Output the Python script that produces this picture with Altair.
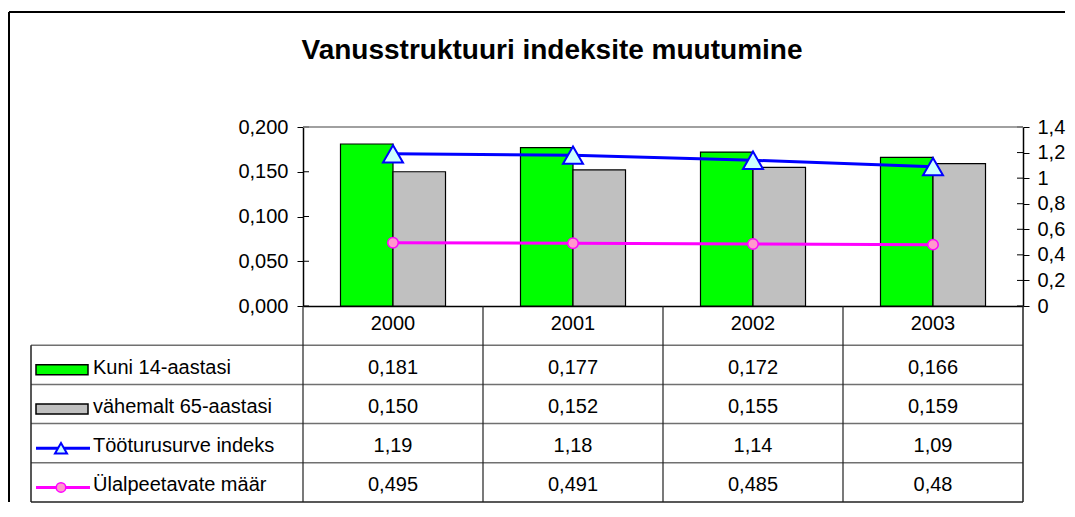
import altair as alt
import pandas as pd

# ---------------- data ----------------
years = ["2000", "2001", "2002", "2003"]
series = ["Kuni 14-aastasi", "vähemalt 65-aastasi", "Tööturusurve indeks", "Ülalpeetavate määr"]
kuni14 = [0.181, 0.177, 0.172, 0.166]
vah65 = [0.150, 0.152, 0.155, 0.159]
tooturu = [1.19, 1.18, 1.14, 1.09]
ulalpeet = [0.495, 0.491, 0.485, 0.48]
left_ticks = [0, 0.05, 0.1, 0.15, 0.2]
right_ticks = [0, 0.2, 0.4, 0.6, 0.8, 1.0, 1.2, 1.4]
title_text = "Vanusstruktuuri indeksite muutumine"

FONT = "Liberation Sans"
FS = 20
W, H_PLOT, H_TAB = 720, 179, 196
HDR = "hdr"
rows = [HDR] + series
fills = ["#00FF00", "#C0C0C0", "#CCFFFF", "#FF99CC"]
strokes = ["#0000FF", "#FF00FF"]

bars_df = pd.DataFrame({
    "year": years * 2,
    "series": [series[0]] * 4 + [series[1]] * 4,
    "value": kuni14 + vah65,
})
toot_df = pd.DataFrame({"year": years, "value": tooturu})
ulal_df = pd.DataFrame({"year": years, "value": ulalpeet})


def fmt3(v):
    return f"{v:.3f}".replace(".", ",")


def fmtg(v):
    return f"{v:g}".replace(".", ",")


head_df = pd.DataFrame({"year": years, "row": [HDR] * 4, "text": years})
cells = []
for i, y in enumerate(years):
    cells.append({"year": y, "row": series[0], "text": fmt3(kuni14[i])})
    cells.append({"year": y, "row": series[1], "text": fmt3(vah65[i])})
    cells.append({"year": y, "row": series[2], "text": fmtg(tooturu[i])})
    cells.append({"year": y, "row": series[3], "text": fmtg(ulalpeet[i])})
cells_df = pd.DataFrame(cells)
rows_df = pd.DataFrame({"row": series})
years_df = pd.DataFrame({"year": years})

# ---------------- top plot ----------------
x_scale = alt.Scale(domain=years, paddingInner=0, paddingOuter=0)
x_plot = alt.X("year:N", scale=x_scale,
               axis=alt.Axis(labels=False, ticks=False, title=None,
                             domainColor="black", domainWidth=1.5))

yL = alt.Y("value:Q", scale=alt.Scale(domain=[0, 0.2]),
           axis=alt.Axis(orient="left", values=left_ticks, title=None, grid=False,
                         labelExpr="replace(format(datum.value, '.3f'), '.', ',')",
                         tickSize=6, labelPadding=9, domainColor="black",
                         tickColor="black", domainWidth=1.5))
yR = alt.Y("value:Q", scale=alt.Scale(domain=[0, 1.4]),
           axis=alt.Axis(orient="right", values=right_ticks, title=None, grid=False,
                         labelExpr="replace(format(datum.value, '.1~f'), '.', ',')",
                         tickSize=6, labelPadding=8, domainColor="black",
                         tickColor="black", domainWidth=1.5))

bars = alt.Chart(bars_df).mark_bar(stroke="black", strokeWidth=1.2).encode(
    x=x_plot,
    xOffset=alt.XOffset("series:N", scale=alt.Scale(domain=series[:2], paddingInner=0,
                                                   paddingOuter=0.714)),
    y=yL,
    fill=alt.Fill("series:N", scale=alt.Scale(domain=series[:2], range=fills[:2]),
                  legend=None),
)
lticks = alt.Chart(pd.DataFrame({"value": left_ticks})).mark_rule(color="black").encode(
    y=yL, x=alt.value(0), x2=alt.value(6))

tline = alt.Chart(toot_df).mark_line(color=strokes[0], strokeWidth=3).encode(x=x_plot, y=yR)
uline = alt.Chart(ulal_df).mark_line(color=strokes[1], strokeWidth=3).encode(x=x_plot, y=yR)
tpts = alt.Chart(toot_df).mark_point(shape="triangle-up", size=400, filled=True, opacity=1,
                                     fill=fills[2], stroke=strokes[0], strokeWidth=2
                                     ).encode(x=x_plot, y=yR)
upts = alt.Chart(ulal_df).mark_point(shape="circle", size=110, filled=True, opacity=1,
                                     fill=fills[3], stroke=strokes[1], strokeWidth=1.5
                                     ).encode(x=x_plot, y=yR)
rticks = alt.Chart(pd.DataFrame({"value": right_ticks})).mark_rule(color="black").encode(
    y=yR, x=alt.value(W - 6), x2=alt.value(W))

plot_top = alt.Chart(pd.DataFrame({"a": [0]})).mark_rule(color="#808080", strokeWidth=1.5).encode(
    x=alt.value(0), x2=alt.value(W), y=alt.value(0))

title = alt.Chart(pd.DataFrame({"t": [title_text]})).mark_text(
    font=FONT, fontSize=28, fontWeight="bold", color="black", align="center",
    baseline="alphabetic").encode(text="t:N", x=alt.value(249), y=alt.value(-68))

frame_top = alt.Chart(pd.DataFrame({"a": [0]})).mark_rule(color="black", strokeWidth=2).encode(
    x=alt.value(-294), x2=alt.value(762), y=alt.value(-115))
frame_left = alt.Chart(pd.DataFrame({"a": [0]})).mark_rule(color="black", strokeWidth=2).encode(
    x=alt.value(-294), y=alt.value(-115), y2=alt.value(H_PLOT + H_TAB))

top = alt.layer(
    alt.layer(bars, lticks),
    alt.layer(tline, uline, tpts, upts, rticks),
    plot_top, title, frame_top, frame_left,
).resolve_scale(y="independent").properties(width=W, height=H_PLOT)

# ---------------- data table ----------------
x_tab = alt.X("year:N", scale=x_scale, axis=None)
y_scale = alt.Scale(domain=rows, paddingInner=0, paddingOuter=0)
y_tab = alt.Y("row:N", scale=y_scale, axis=None)
fill_scale = alt.Scale(domain=series, range=fills)
stroke_scale = alt.Scale(domain=series[2:], range=strokes)

hlines = alt.Chart(rows_df).mark_rule(color="#707070", strokeWidth=1.5).encode(
    y=alt.Y("row:N", scale=y_scale, axis=None, bandPosition=0),
    x=alt.value(-272), x2=alt.value(W))
bottom = alt.Chart(rows_df.tail(1)).mark_rule(color="#202020", strokeWidth=1.5).encode(
    y=alt.Y("row:N", scale=y_scale, axis=None, bandPosition=1),
    x=alt.value(-272), x2=alt.value(W))
vlines = alt.Chart(years_df).mark_rule(color="#202020", strokeWidth=1.2).encode(
    x=alt.X("year:N", scale=x_scale, axis=None, bandPosition=0),
    y=alt.value(0), y2=alt.value(H_TAB))
vright = alt.Chart(years_df.tail(1)).mark_rule(color="#202020", strokeWidth=1.5).encode(
    x=alt.X("year:N", scale=x_scale, axis=None, bandPosition=1),
    y=alt.value(0), y2=alt.value(H_TAB))
vleft = alt.Chart(rows_df.head(1)).mark_rule(color="#202020", strokeWidth=1.5).encode(
    y=alt.Y("row:N", scale=y_scale, axis=None, bandPosition=0),
    y2=alt.value(H_TAB), x=alt.value(-272))

heads = alt.Chart(head_df).mark_text(font=FONT, fontSize=FS, color="black",
                                     align="center", baseline="middle", dy=-2).encode(
    x=x_tab, y=y_tab, text="text:N")
texts = alt.Chart(cells_df).mark_text(font=FONT, fontSize=FS, color="black",
                                      align="center", baseline="middle", dy=3).encode(
    x=x_tab, y=y_tab, text="text:N")

labels = alt.Chart(rows_df).mark_text(font=FONT, fontSize=FS, color="black",
                                      align="left", baseline="middle", dy=3).encode(
    y=y_tab, x=alt.value(-210), text="row:N")

sym_bars = alt.Chart(rows_df.head(2)).mark_point(
    shape="M-1,-0.19H1V0.19H-1Z", size=52 * 52, filled=True, opacity=1,
    stroke="black", strokeWidth=1.5, yOffset=5).encode(
    y=y_tab, x=alt.value(-241), fill=alt.Fill("row:N", scale=fill_scale, legend=None))
sym_lines = alt.Chart(rows_df.tail(2)).mark_rule(strokeWidth=3, yOffset=5).encode(
    y=y_tab, x=alt.value(-267), x2=alt.value(-213),
    stroke=alt.Stroke("row:N", scale=stroke_scale, legend=None))
sym_tri = alt.Chart(rows_df.iloc[[2]]).mark_point(
    shape="triangle-up", size=144, filled=True, opacity=1, fill=fills[2],
    stroke=strokes[0], strokeWidth=2, yOffset=5).encode(y=y_tab, x=alt.value(-242))
sym_circ = alt.Chart(rows_df.iloc[[3]]).mark_point(
    shape="circle", size=90, filled=True, opacity=1, fill=fills[3],
    stroke=strokes[1], strokeWidth=1.5, yOffset=5).encode(y=y_tab, x=alt.value(-242))

table = alt.layer(
    hlines, bottom, vlines, vright, vleft, heads, texts, labels,
    sym_bars, sym_lines, sym_tri, sym_circ,
).properties(width=W, height=H_TAB)

chart = alt.vconcat(top, table, spacing=0, bounds="flush").properties(
    padding={"left": 0, "top": 3, "right": 0, "bottom": 0},
).configure_view(strokeWidth=0).configure_axis(
    labelFont=FONT, labelFontSize=FS, labelColor="black")

chart.save("out.html", embed_options={"renderer": "svg", "actions": False})
